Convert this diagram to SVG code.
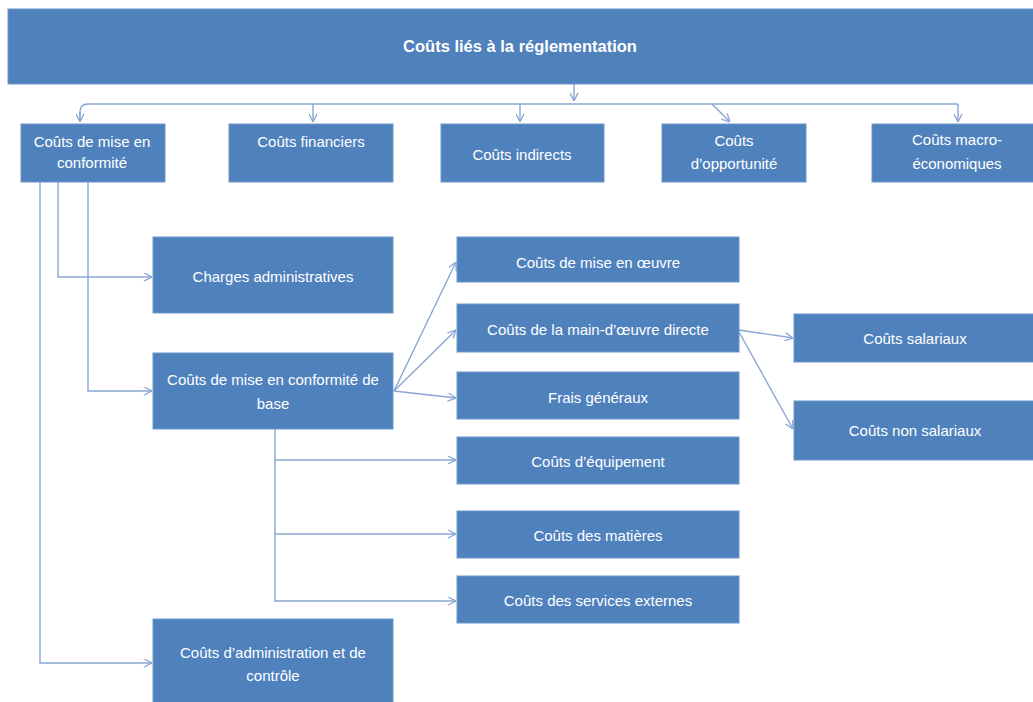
<svg xmlns="http://www.w3.org/2000/svg" width="1033" height="702" viewBox="0 0 1033 702">
<style>
.box{fill:#4F81BD;stroke:#6F97CC;stroke-width:1}
.t{font-family:"Liberation Sans",Arial,sans-serif;font-size:15px;fill:#FFFFFF;text-anchor:middle}
.title{font-weight:bold;font-size:16.5px}
.c{fill:none;stroke:#8AA6D4;stroke-width:1.4}
</style>
<defs>
<marker id="ah" viewBox="0 0 10 10" refX="10" refY="5" markerWidth="9" markerHeight="9" markerUnits="userSpaceOnUse" orient="auto">
<path d="M1,0.5 L10,5 L1,9.5" fill="none" stroke="#8AA6D4" stroke-width="1.4"/>
</marker>
</defs>
<rect width="1033" height="702" fill="#FFFFFF"/>
<g id="connectors">
<path class="c" d="M574 84 L574 101" marker-end="url(#ah)"/>
<path class="c" d="M80 122 L80 112 Q80 104 88 104 L958 104"/>
<path class="c" d="M958 104 L958 122" marker-end="url(#ah)"/>
<path class="c" d="M313 104 L313 122" marker-end="url(#ah)"/>
<path class="c" d="M520 104 L520 122" marker-end="url(#ah)"/>
<path class="c" d="M712 104 L730 122" marker-end="url(#ah)"/>
<path class="c" d="M80 112 L80 122" marker-end="url(#ah)"/>
<path class="c" d="M58 182 L58 277 L152 277" marker-end="url(#ah)"/>
<path class="c" d="M88 182 L88 391 L152 391" marker-end="url(#ah)"/>
<path class="c" d="M40 182 L40 663 L152 663" marker-end="url(#ah)"/>
<path class="c" d="M394 391 L456 262" marker-end="url(#ah)"/>
<path class="c" d="M394 391 L456 330" marker-end="url(#ah)"/>
<path class="c" d="M394 391 L456 398" marker-end="url(#ah)"/>
<path class="c" d="M275 429 L275 601 L456 601" marker-end="url(#ah)"/>
<path class="c" d="M275 460 L456 460" marker-end="url(#ah)"/>
<path class="c" d="M275 534 L456 534" marker-end="url(#ah)"/>
<path class="c" d="M739 330 L793 338" marker-end="url(#ah)"/>
<path class="c" d="M739 332 L793 429" marker-end="url(#ah)"/>
</g>
<g id="n-root"><rect class="box" x="8" y="9" width="1030" height="75"/><text class="t title" x="520" y="52">Coûts liés à la réglementation</text></g>
<g id="n-conf"><rect class="box" x="21" y="124" width="144" height="58"/><text class="t" x="92" y="147">Coûts de mise en</text><text class="t" x="92" y="168">conformité</text></g>
<g id="n-fin"><rect class="box" x="229" y="124" width="164" height="58"/><text class="t" x="311" y="147">Coûts financiers</text></g>
<g id="n-ind"><rect class="box" x="441" y="124" width="163" height="58"/><text class="t" x="522" y="160">Coûts indirects</text></g>
<g id="n-opp"><rect class="box" x="662" y="124" width="144" height="58"/><text class="t" x="734" y="146">Coûts</text><text class="t" x="734" y="169">d’opportunité</text></g>
<g id="n-macro"><rect class="box" x="872" y="124" width="166" height="58"/><text class="t" x="957" y="145">Coûts macro-</text><text class="t" x="957" y="169">économiques</text></g>
<g id="n-charges"><rect class="box" x="153" y="237" width="240" height="76"/><text class="t" x="273" y="282">Charges administratives</text></g>
<g id="n-base"><rect class="box" x="153" y="353" width="240" height="76"/><text class="t" x="273" y="385">Coûts de mise en conformité de</text><text class="t" x="273" y="409">base</text></g>
<g id="n-admin"><rect class="box" x="153" y="619" width="240" height="90"/><text class="t" x="273" y="658">Coûts d’administration et de</text><text class="t" x="273" y="681">contrôle</text></g>
<g id="n-oeuvre"><rect class="box" x="457" y="237" width="282" height="45"/><text class="t" x="598" y="268">Coûts de mise en œuvre</text></g>
<g id="n-mo"><rect class="box" x="457" y="304" width="282" height="48"/><text class="t" x="598" y="335">Coûts de la main-d’œuvre directe</text></g>
<g id="n-frais"><rect class="box" x="457" y="372" width="282" height="47"/><text class="t" x="598" y="403">Frais généraux</text></g>
<g id="n-equip"><rect class="box" x="457" y="437" width="282" height="47"/><text class="t" x="598" y="467">Coûts d’équipement</text></g>
<g id="n-mat"><rect class="box" x="457" y="511" width="282" height="47"/><text class="t" x="598" y="541">Coûts des matières</text></g>
<g id="n-serv"><rect class="box" x="457" y="576" width="282" height="47"/><text class="t" x="598" y="606">Coûts des services externes</text></g>
<g id="n-sal"><rect class="box" x="794" y="314" width="244" height="48"/><text class="t" x="915" y="344">Coûts salariaux</text></g>
<g id="n-nonsal"><rect class="box" x="794" y="401" width="244" height="59"/><text class="t" x="915" y="436">Coûts non salariaux</text></g>
</svg>
